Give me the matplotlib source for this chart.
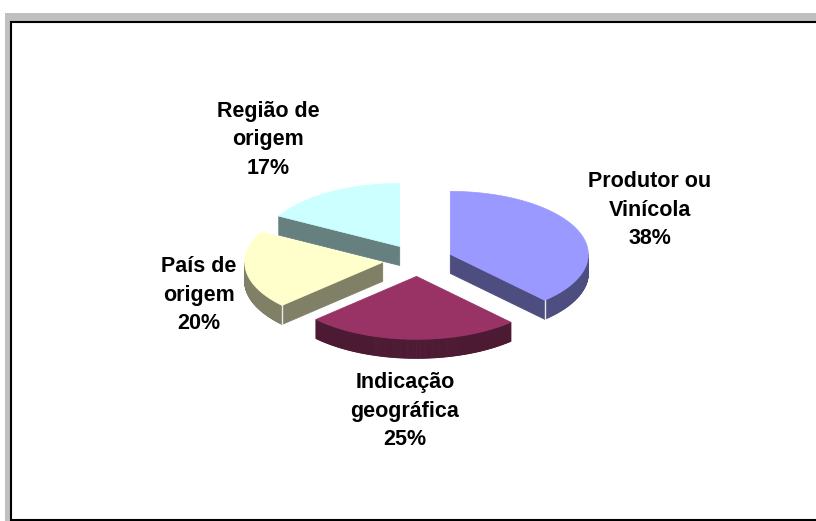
#!/usr/bin/env python
'''
3D exploded pie, excel style
'''
import matplotlib
matplotlib.use('Agg')
from matplotlib import pyplot as plt
from matplotlib.patches import Polygon, Rectangle
import numpy as np

labels = ['Produtor ou\nVinícola', 'Indicação\ngeográfica', 'País de\norigem', 'Região de\norigem']
values = [38, 25, 20, 17]
tops = ['#9999FF', '#993366', '#FFFFCC', '#CCFFFF']
sides = ['#4D4D80', '#4D1A33', '#808066', '#668080']
# label centres in pixels
lab_xy = [(650, 210), (405, 411), (199, 295), (268, 140)]

W, H = 816, 521
cx, cy = 417.6, 260.3
R, r = 138., 63.
depth = 19.
expl = 0.255

def pt(t, dx, dy, dz=0.):
    t = np.radians(t)
    return cx + dx + R*np.cos(t), cy + dy - r*np.sin(t) + dz

def draw_slice(ax, t1, t2, top, side):
    mid = np.radians(0.5*(t1+t2))
    dx, dy = expl*R*np.cos(mid), -expl*r*np.sin(mid)
    apex = (cx+dx, cy+dy)
    ts = np.linspace(t1, t2, 200)
    # curved front wall
    for a, b in zip(ts[:-1], ts[1:]):
        if np.sin(np.radians(0.5*(a+b))) < 0:
            q = [pt(a,dx,dy), pt(b,dx,dy), pt(b,dx,dy,depth), pt(a,dx,dy,depth)]
            ax.add_patch(Polygon(q, closed=True, fc=side, ec=side, lw=0.6, zorder=2))
    # radial walls
    for t, nrm in ((t1, t1+90), (t2, t2-90)):
        if np.sin(np.radians(nrm)) < -1e-6:
            p = pt(t, dx, dy)
            q = [apex, p, (p[0], p[1]+depth), (apex[0], apex[1]+depth)]
            ax.add_patch(Polygon(q, closed=True, fc=side, ec=side, lw=0.6, zorder=2))
            if np.sin(np.radians(t)) < 0:
                ax.plot([p[0], p[0]], [p[1], p[1]+depth], color='#E8E8F0', lw=1, zorder=3)
    outline = [apex] + [pt(t, dx, dy) for t in ts]
    ax.add_patch(Polygon(outline, closed=True, fc=top, ec=top, lw=0.5, zorder=4))

fig = plt.figure(figsize=(W/100., H/100.), dpi=100, facecolor='white')
ax = fig.add_axes([0, 0, 1, 1])
ax.set_xlim(0, W); ax.set_ylim(H, 0); ax.axis('off')

# grey sheet + chart frame (frame runs off the right edge)
ax.fill_between([5, W], 13, H, color='#C0C0C0', lw=0, zorder=0)
ax.fill_between([10.5, W], 21.5, 520, color='white', lw=0, zorder=1)
ax.plot([W, 10.5, 10.5, W], [21.5, 21.5, 520, 520], color='black', lw=1.5,
        solid_joinstyle='miter', zorder=1)

angs = 90 - 3.6*np.concatenate([[0], np.cumsum(values)])
order = np.argsort([-np.sin(np.radians(0.5*(angs[i]+angs[i+1]))) for i in range(len(values))])
for i in order:
    draw_slice(ax, angs[i], angs[i+1], tops[i], sides[i])

for i in range(len(values)):
    ax.text(lab_xy[i][0], lab_xy[i][1], '%s\n%d%%' % (labels[i], values[i]),
            ha='center', va='center', fontsize=15.5, fontweight='bold',
            family='Liberation Sans', linespacing=1.45, zorder=5)

fig.savefig('out.png', dpi=100)
plt.close('all')
